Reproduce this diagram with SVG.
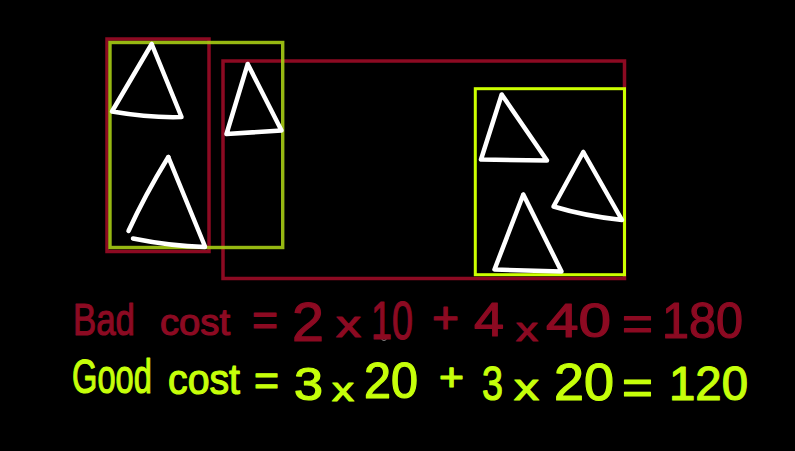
<svg xmlns="http://www.w3.org/2000/svg" width="795" height="451" viewBox="0 0 795 451">
<style>
.bg{fill:#000}
.red{fill:none;stroke:#8c0a22;stroke-width:3.5}
.grn1{fill:none;stroke:#a6cc14;stroke-opacity:0.9;stroke-width:3.4}
.grn2{fill:none;stroke:#ccff00;stroke-width:3}
.tri{fill:none;stroke:#fff;stroke-width:4.5;stroke-linecap:round;stroke-linejoin:round}
.t{font-family:"Liberation Sans",Arial,sans-serif;stroke-width:1.2;stroke-linejoin:round}
.bad{fill:#8c0a22;stroke:#8c0a22}
.good{fill:#c6ff0a;stroke:#c6ff0a}
</style>
<rect class="bg" x="0" y="0" width="795" height="451"/>
<g id="boxes">
<rect class="red" x="107" y="39" width="102" height="212.5"/>
<rect class="red" x="223" y="61" width="401.5" height="217.5"/>
<rect class="grn1" x="110" y="42.5" width="172.7" height="205"/>
<rect class="grn2" x="475.3" y="88.7" width="149.2" height="186"/>
</g>
<g id="triangles">
<path class="tri" d="M151.7,44 L112,111.5 Q150,118 181.5,117 L151.7,44"/>
<path class="tri" d="M247.7,64 L226.5,134 L281.5,130.5 L247.7,64"/>
<path class="tri" d="M168.3,157 Q145,195 128.5,231"/>
<path class="tri" d="M168.3,157 L205,246.5 M133,238.5 Q170,246 205,247"/>
<path class="tri" d="M501.7,94.5 L481,159.5 L547,160.5 L501.7,94.5"/>
<path class="tri" d="M583.3,152 L553.5,206.5 Q585,216 622,220 L583.3,152"/>
<path class="tri" d="M523.3,194.5 L494.5,269.5 L561.5,271.5 L523.3,194.5"/>
</g>
<circle cx="384" cy="338" r="2.5" fill="none" stroke="#888" stroke-width="1"/>
<g id="bad-line" class="t bad">
<text x="73" y="335" font-size="45" textLength="62" lengthAdjust="spacingAndGlyphs">Bad</text>
<text x="160" y="335" font-size="36" textLength="70" lengthAdjust="spacingAndGlyphs">cost</text>
<text x="252" y="336" font-size="46" textLength="26" lengthAdjust="spacingAndGlyphs">=</text>
<text x="292" y="341" font-size="56" textLength="32" lengthAdjust="spacingAndGlyphs">2</text>
<text x="336" y="337" font-size="36" textLength="25" lengthAdjust="spacingAndGlyphs">x</text>
<text x="371" y="339" font-size="54" textLength="42" lengthAdjust="spacingAndGlyphs">10</text>
<text x="432" y="333" font-size="44" textLength="27" lengthAdjust="spacingAndGlyphs">+</text>
<text x="474" y="336" font-size="48" textLength="30" lengthAdjust="spacingAndGlyphs">4</text>
<text x="516" y="341" font-size="34" textLength="22" lengthAdjust="spacingAndGlyphs">x</text>
<text x="546" y="337" font-size="48" textLength="65" lengthAdjust="spacingAndGlyphs">40</text>
<text x="622" y="340" font-size="48" textLength="31" lengthAdjust="spacingAndGlyphs">=</text>
<text x="662" y="338" font-size="50" textLength="81" lengthAdjust="spacingAndGlyphs">180</text>
</g>
<g id="good-line" class="t good">
<text x="0" y="0" font-size="48" transform="translate(72,393) scale(0.68,1)">Good</text>
<text x="168" y="394" font-size="42" textLength="72" lengthAdjust="spacingAndGlyphs">cost</text>
<text x="254" y="396" font-size="44" textLength="25" lengthAdjust="spacingAndGlyphs">=</text>
<text x="294" y="400" font-size="46" textLength="29" lengthAdjust="spacingAndGlyphs">3</text>
<text x="332" y="401" font-size="34" textLength="22" lengthAdjust="spacingAndGlyphs">x</text>
<text x="364" y="398" font-size="50" textLength="54" lengthAdjust="spacingAndGlyphs">20</text>
<text x="439" y="390" font-size="38" textLength="25" lengthAdjust="spacingAndGlyphs">+</text>
<text x="482" y="400" font-size="48" textLength="21" lengthAdjust="spacingAndGlyphs">3</text>
<text x="514" y="400" font-size="36" textLength="25" lengthAdjust="spacingAndGlyphs">x</text>
<text x="554" y="400" font-size="52" textLength="60" lengthAdjust="spacingAndGlyphs">20</text>
<text x="622" y="404" font-size="50" textLength="31" lengthAdjust="spacingAndGlyphs">=</text>
<text x="669" y="400" font-size="48" textLength="79" lengthAdjust="spacingAndGlyphs">120</text>
</g>
</svg>
